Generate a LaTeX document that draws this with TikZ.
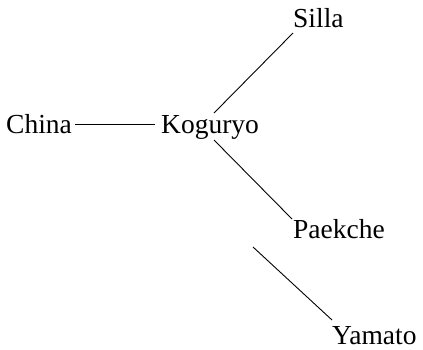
\documentclass[tikz,border=0pt]{standalone}
\usepackage{fontspec}
\setmainfont{Liberation Serif}
\begin{document}
\begin{tikzpicture}[x=1pt,y=-1pt,
  lbl/.style={anchor=base west,inner sep=0pt,font=\fontsize{27.5}{30}\selectfont},
  link/.style={line width=0.9pt}]
\useasboundingbox (0,0) rectangle (423,349);
\node[lbl] (china) at (6,133) {China};
\node[lbl] (kog) at (161,133) {Koguryo};
\node[lbl] (silla) at (293,27) {Silla};
\node[lbl] (paek) at (293,238) {Paekche};
\node[lbl] (yam) at (332,344) {Yamato};
\coordinate (c1) at (75,124.5);
\coordinate (k1) at (155,124.5);
\coordinate (k2) at (214,113);
\coordinate (s1) at (293,33);
\coordinate (k3) at (214,140);
\coordinate (p1) at (292,219);
\coordinate (p2) at (253,247);
\coordinate (y1) at (332,320);
\draw[link] (c1) -- (k1);
\draw[link] (k2) -- (s1);
\draw[link] (k3) -- (p1);
\draw[link] (p2) -- (y1);
\end{tikzpicture}
\end{document}
